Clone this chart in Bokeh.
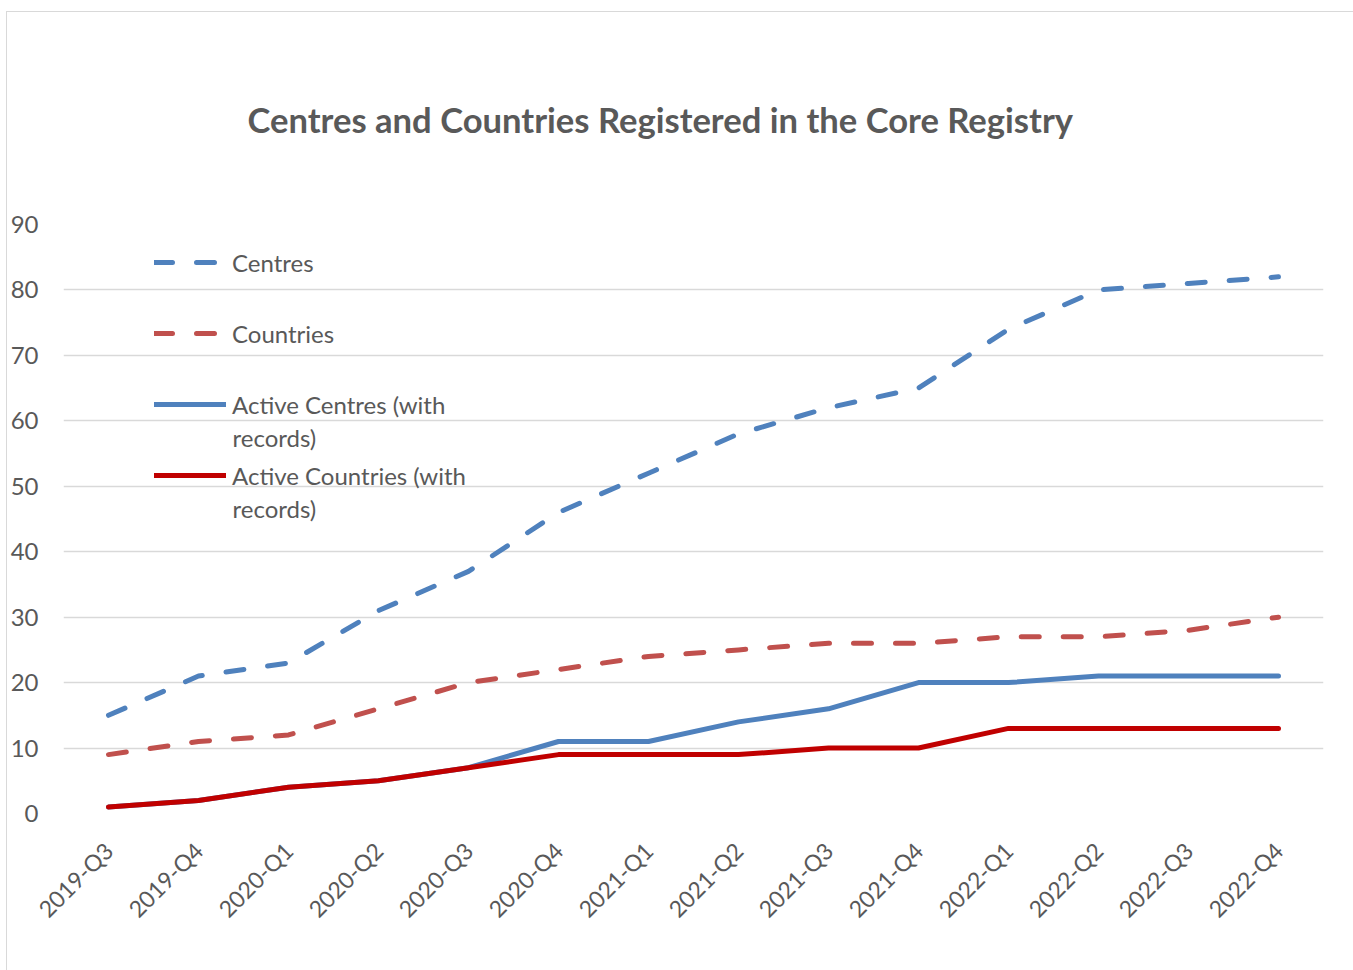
import math
from bokeh.plotting import figure
from bokeh.models import FactorRange, Range1d, Legend, LegendItem, Label, FixedTicker
from bokeh.embed import file_html
from bokeh.resources import INLINE

quarters = ["2019-Q3", "2019-Q4", "2020-Q1", "2020-Q2", "2020-Q3", "2020-Q4", "2021-Q1",
            "2021-Q2", "2021-Q3", "2021-Q4", "2022-Q1", "2022-Q2", "2022-Q3", "2022-Q4"]
centres = [15, 21, 23, 31, 37, 46, 52, 58, 62, 65, 74, 80, 81, 82]
countries = [9, 11, 12, 16, 20, 22, 24, 25, 26, 26, 27, 27, 28, 30]
active_centres = [1, 2, 4, 5, 7, 11, 11, 14, 16, 20, 20, 21, 21, 21]
active_countries = [1, 2, 4, 5, 7, 9, 9, 9, 10, 10, 13, 13, 13, 13]
y_ticks = [0, 10, 20, 30, 40, 50, 60, 70, 80, 90]
title_text = "Centres and Countries Registered in the Core Registry"

FONT = "Lato"
GREY = "#595959"

p = figure(x_range=FactorRange(factors=quarters, range_padding=0),
           y_range=Range1d(0, 90),
           frame_width=1260, frame_height=589,
           min_border_left=55, min_border_right=30,
           min_border_top=212, min_border_bottom=161,
           output_backend="svg", toolbar_location=None,
           title=title_text)
p.outline_line_color = None
p.styles = {"border": "1px solid #d9d9d9", "margin-left": "6px", "margin-top": "11px"}

p.title.text_font = FONT
p.title.text_font_size = "34.6px"
p.title.text_font_style = "bold"
p.title.text_color = GREY
p.title.align = "left"
p.title.offset = 184
p.title.standoff = 169

p.xgrid.grid_line_color = None
p.ygrid.grid_line_color = "#d9d9d9"
p.ygrid.grid_line_width = 1.5

p.yaxis.ticker = FixedTicker(ticks=y_ticks)
p.yaxis.axis_line_color = None
p.yaxis.major_tick_line_color = None
p.yaxis.minor_tick_line_color = None
p.yaxis.major_label_text_font = FONT
p.yaxis.major_label_text_font_size = "24px"
p.yaxis.major_label_text_color = GREY
p.yaxis.major_label_standoff = 19

p.xaxis.axis_line_color = None
p.xaxis.major_tick_line_color = None
p.xaxis.major_label_orientation = math.pi / 4
p.xaxis.major_label_text_font = FONT
p.xaxis.major_label_text_font_size = "23px"
p.xaxis.major_label_text_color = GREY
p.xaxis.major_label_standoff = 27

BLUE = "#4F81BD"
RED = "#C0504D"
DARKRED = "#C00000"

r1 = p.line(quarters, centres, line_color=BLUE, line_width=5, line_dash="18 24", line_cap="round", line_join="round")
r2 = p.line(quarters, countries, line_color=RED, line_width=5, line_dash="18 24", line_cap="round", line_join="round")
r3 = p.line(quarters, active_centres, line_color=BLUE, line_width=5, line_cap="round", line_join="round")
r4 = p.line(quarters, active_countries, line_color=DARKRED, line_width=5, line_cap="round", line_join="round")

legend = Legend(items=[
    LegendItem(label="Centres", renderers=[r1]),
    LegendItem(label="Countries", renderers=[r2]),
    LegendItem(label="Active Centres (with", renderers=[r3]),
    LegendItem(label="Active Countries (with", renderers=[r4]),
], location=(91, 323))
legend.padding = 0
legend.margin = 0
legend.spacing = 41
legend.label_height = 30
legend.glyph_height = 30
legend.glyph_width = 72
legend.label_standoff = 6
legend.border_line_color = None
legend.background_fill_alpha = 0
legend.label_text_font = FONT
legend.label_text_font_size = "24px"
legend.label_text_color = GREY
p.add_layout(legend)

for yv in [57.46, 46.6]:
    p.add_layout(Label(x=1.878, y=yv, text="records)", text_font=FONT, text_font_size="24px",
                       text_color=GREY, text_baseline="middle"))

open("out.html", "w").write(file_html(p, INLINE))
